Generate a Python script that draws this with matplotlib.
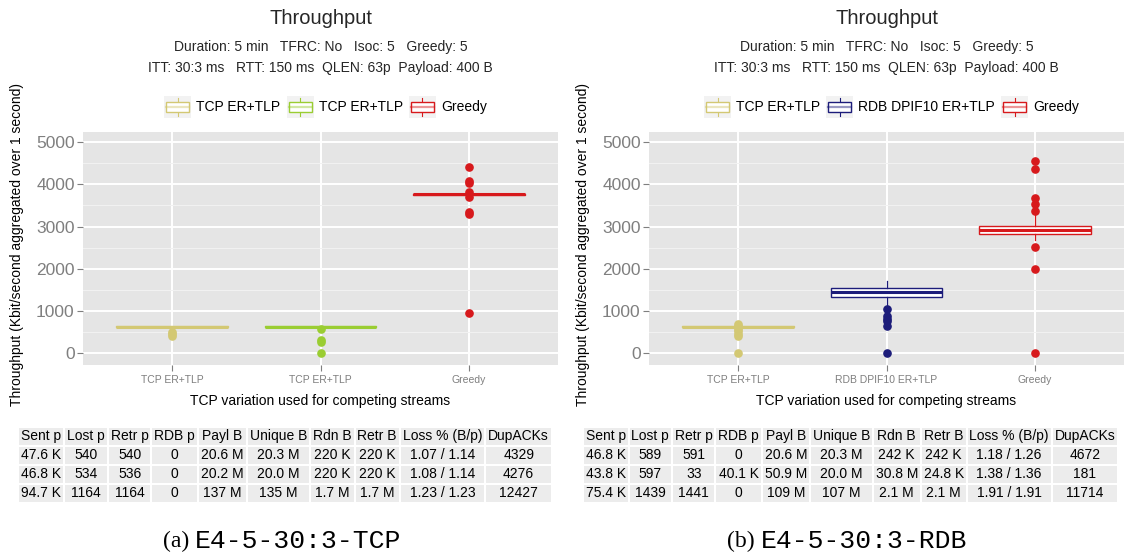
import matplotlib
matplotlib.use('Agg')
import matplotlib.pyplot as plt
from matplotlib.patches import Rectangle, Patch
from matplotlib.lines import Line2D
from matplotlib.legend_handler import HandlerBase

plt.rcParams['font.family'] = ['Liberation Sans', 'DejaVu Sans']

# ---------------- data ----------------
title_text = 'Throughput'
subtitle1 = 'Duration: 5 min   TFRC: No   Isoc: 5   Greedy: 5'
subtitle2 = 'ITT: 30:3 ms   RTT: 150 ms  QLEN: 63p  Payload: 400 B'
ylabel_text = 'Throughput (Kbit/second aggregated over 1 second)'
xlabel_text = 'TCP variation used for competing streams'
y_ticks = [0, 1000, 2000, 3000, 4000, 5000]
y_minor = [500, 1500, 2500, 3500, 4500]

left_categories = ['TCP ER+TLP', 'TCP ER+TLP', 'Greedy']
left_colors = ['#d3c873', '#9acd32', '#d7191c']
left_q1 = [615, 615, 3742]
left_med = [625, 625, 3762]
left_q3 = [635, 635, 3782]
left_whislo = [610, 605, 3700]
left_whishi = [640, 640, 3800]
left_fliers = [[500, 450, 400], [575, 310, 260, 0],
               [4400, 4080, 4030, 3820, 3700, 3350, 3300, 950]]

right_categories = ['TCP ER+TLP', 'RDB DPIF10 ER+TLP', 'Greedy']
right_colors = ['#d3c873', '#1c1c7a', '#d7191c']
right_q1 = [615, 1340, 2826]
right_med = [625, 1445, 2929]
right_q3 = [635, 1540, 3024]
right_whislo = [610, 1070, 2690]
right_whishi = [640, 1714, 3290]
right_fliers = [[700, 650, 580, 520, 450, 400, 0],
                [1040, 870, 820, 770, 640, 0],
                [4548, 4373, 3667, 3524, 3365, 2516, 2000, 0]]

table_header = ['Sent p', 'Lost p', 'Retr p', 'RDB p', 'Payl B', 'Unique B',
                'Rdn B', 'Retr B', 'Loss % (B/p)', 'DupACKs']
left_rows = [
    ['47.6 K', '540', '540', '0', '20.6 M', '20.3 M', '220 K', '220 K', '1.07 / 1.14', '4329'],
    ['46.8 K', '534', '536', '0', '20.2 M', '20.0 M', '220 K', '220 K', '1.08 / 1.14', '4276'],
    ['94.7 K', '1164', '1164', '0', '137 M', '135 M', '1.7 M', '1.7 M', '1.23 / 1.23', '12427'],
]
right_rows = [
    ['46.8 K', '589', '591', '0', '20.6 M', '20.3 M', '242 K', '242 K', '1.18 / 1.26', '4672'],
    ['43.8 K', '597', '33', '40.1 K', '50.9 M', '20.0 M', '30.8 M', '24.8 K', '1.38 / 1.36', '181'],
    ['75.4 K', '1439', '1441', '0', '109 M', '107 M', '2.1 M', '2.1 M', '1.91 / 1.91', '11714'],
]
left_caption = ('(a)', 'E4-5-30:3-TCP')
right_caption = ('(b)', 'E4-5-30:3-RDB')

# ---------------- layout helpers ----------------
W, H = 1129, 555
fig = plt.figure(figsize=(W / 100, H / 100), dpi=100)
renderer = fig.canvas.get_renderer()


def fx(px):
    return px / W


def fy(py):
    return 1 - py / H


def text_width(s, **kw):
    t = fig.text(0, 0, s, **kw)
    w = t.get_window_extent(renderer).width
    t.remove()
    return w


class BoxKeyHandler(HandlerBase):
    def create_artists(self, legend, orig_handle, xdescent, ydescent,
                       width, height, fontsize, trans):
        c = orig_handle.get_edgecolor()
        x0, y0 = -xdescent, -ydescent
        arts = [
            Rectangle((x0, y0), width, height, facecolor='#f2f2f2',
                      edgecolor='none', transform=trans),
            Line2D([x0 + width / 2] * 2, [y0 + 0.05 * height, y0 + 0.25 * height],
                   color=c, lw=0.8, transform=trans),
            Line2D([x0 + width / 2] * 2, [y0 + 0.75 * height, y0 + 0.95 * height],
                   color=c, lw=0.8, transform=trans),
            Rectangle((x0 + 0.08 * width, y0 + 0.25 * height), 0.84 * width,
                      0.5 * height, facecolor='white', edgecolor=c, lw=1.0,
                      transform=trans),
            Line2D([x0 + 0.08 * width, x0 + 0.92 * width], [y0 + 0.5 * height] * 2,
                   color=c, alpha=0.45, lw=1.6, transform=trans),
        ]
        return arts


def draw_panel(px_left, px_right, cats, colors, q1, med, q3, wlo, whi, fliers,
               ylab_x, caption, rows, table_left, table_right, caption_cx):
    top, bottom = 132, 365
    ax = fig.add_axes([fx(px_left), fy(bottom), fx(px_right - px_left),
                       (bottom - top) / H])
    ax.set_facecolor('#e5e5e5')
    ax.set_axisbelow(True)
    for i in range(len(cats)):
        c = colors[i]
        st = dict(med=med[i], q1=q1[i], q3=q3[i], whislo=wlo[i],
                  whishi=whi[i], fliers=fliers[i])
        ax.bxp([st], positions=[i + 1], widths=0.75, patch_artist=True,
               showcaps=False,
               boxprops=dict(facecolor='white', edgecolor=c, lw=1.0),
               medianprops=dict(color=c, lw=2.2),
               whiskerprops=dict(color=c, lw=0.9),
               flierprops=dict(marker='o', markerfacecolor=c,
                               markeredgecolor=c, markersize=5.2))
    ax.set_xticks(range(1, len(cats) + 1))
    ax.set_xticklabels(cats)
    ax.set_yticks(y_ticks)
    ax.set_yticklabels([str(v) for v in y_ticks])
    ax.set_yticks(y_minor, minor=True)
    ax.set_xlim(0.4, len(cats) + 0.6)
    ax.set_ylim(-280, 5240)
    ax.grid(which='major', color='white', lw=1.4)
    ax.grid(which='minor', axis='y', color='#f2f2f2', lw=0.7)
    for s in ax.spines.values():
        s.set_visible(False)
    ax.tick_params(axis='y', which='major', labelsize=12.5, labelcolor='#7f7f7f',
                   color='#7f7f7f', length=4, width=0.8, pad=2)
    ax.tick_params(axis='x', which='major', labelsize=7.5, labelcolor='#7f7f7f',
                   color='#7f7f7f', length=4, width=0.8, pad=3)
    ax.tick_params(which='minor', length=0)

    cx = (px_left + px_right) / 2
    fig.text(fx(cx), fy(18), title_text, ha='center', va='center',
             fontsize=14.5, color='#262626')
    fig.text(fx(cx), fy(47), subtitle1, ha='center', va='center',
             fontsize=10, color='#262626')
    fig.text(fx(cx), fy(68), subtitle2, ha='center', va='center',
             fontsize=10, color='#262626')
    fig.text(fx(cx), fy(401), xlabel_text, ha='center', va='center',
             fontsize=10, color='black')
    fig.text(fx(ylab_x), fy((top + bottom) / 2 - 4), ylabel_text, ha='center',
             va='center', rotation=90, fontsize=10, color='black')

    handles = [Patch(edgecolor=c, facecolor='white') for c in colors]
    fig.legend(handles, cats, handler_map={Patch: BoxKeyHandler()},
               loc='center', bbox_to_anchor=(fx(cx + 5), fy(107)), ncol=3,
               frameon=False, fontsize=10, handlelength=1.95,
               handleheight=1.95, handletextpad=0.35, columnspacing=0.45,
               borderpad=0)

    # table
    all_rows = [table_header] + rows
    fs = 10
    widths = []
    for j in range(len(table_header)):
        widths.append(max(text_width(r[j], fontsize=fs) for r in all_rows))
    total_text = sum(widths)
    pad = (table_right - table_left - total_text) / len(widths)
    row_centers = [436, 455, 474, 493]
    row_h = 17
    x = table_left
    for j, w in enumerate(widths):
        cw = w + pad
        for r, yc in zip(all_rows, row_centers):
            fig.patches.append(Rectangle((fx(x + 1), fy(yc + row_h / 2)),
                                         (cw - 2) / W, row_h / H,
                                         transform=fig.transFigure,
                                         facecolor='#ececec', edgecolor='none'))
            fig.text(fx(x + cw / 2), fy(yc), r[j], ha='center', va='center',
                     fontsize=fs, color='black')
        x += cw

    # caption
    ser_fs, mono_fs = 17, 19
    w1 = text_width(caption[0] + ' ', fontsize=ser_fs, family='Liberation Serif')
    w2 = text_width(caption[1], fontsize=mono_fs, family='Liberation Mono')
    x0 = caption_cx - (w1 + w2) / 2
    fig.text(fx(x0), fy(541), caption[0] + ' ', ha='left', va='center',
             fontsize=ser_fs, family='Liberation Serif', color='black')
    fig.text(fx(x0 + w1), fy(541), caption[1], ha='left', va='center',
             fontsize=mono_fs, family='Liberation Mono', color='black')


draw_panel(83, 558, left_categories, left_colors, left_q1, left_med, left_q3,
           left_whislo, left_whishi, left_fliers, 17, left_caption, left_rows,
           18, 552, 282)
draw_panel(649, 1124, right_categories, right_colors, right_q1, right_med,
           right_q3, right_whislo, right_whishi, right_fliers, 583,
           right_caption, right_rows, 583, 1118, 847)

fig.savefig('out.png', dpi=100)
